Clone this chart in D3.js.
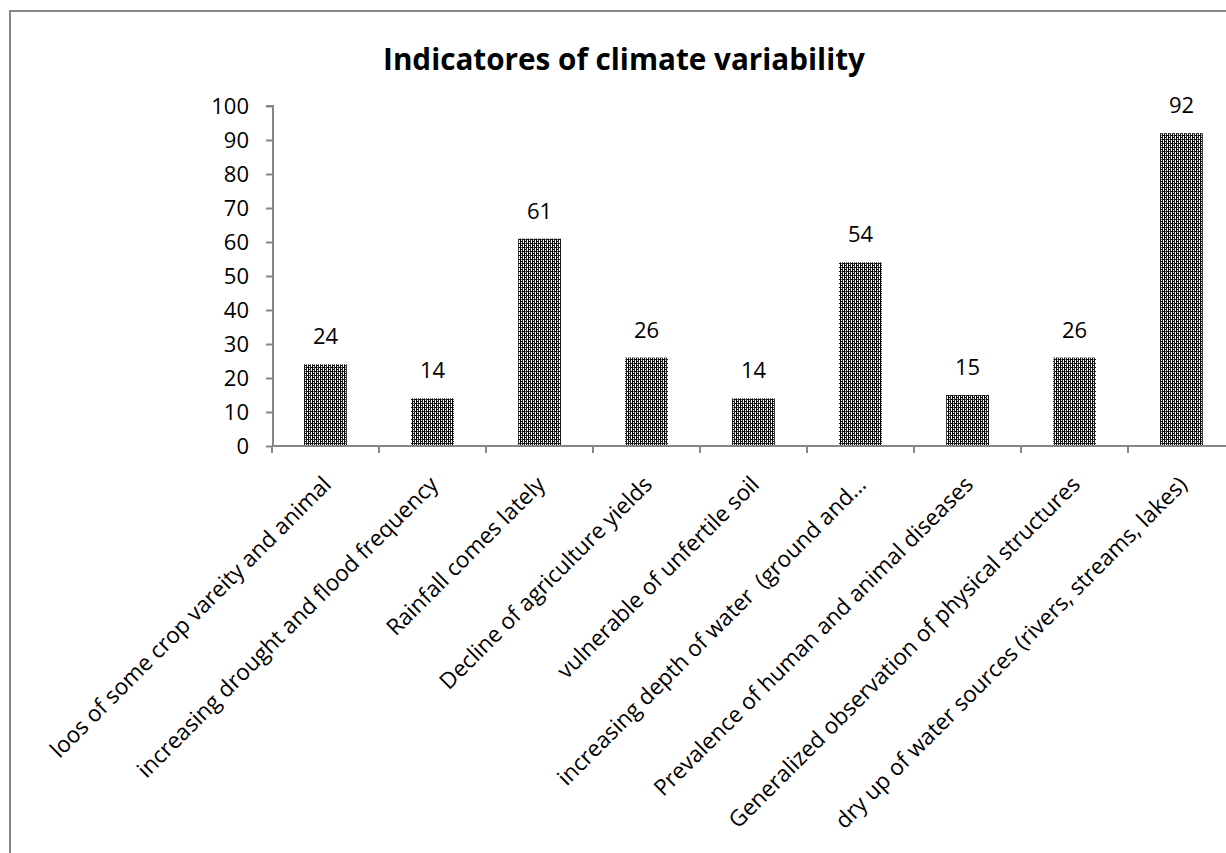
<!DOCTYPE html>
<html>
<head>
<meta charset="utf-8">
<script src="https://cdn.jsdelivr.net/npm/d3@7"></script>
<style>
  html, body { margin: 0; padding: 0; background: #fff; }
  svg { display: block; }
  text { font-family: "Open Sans", Lato, sans-serif; fill: #000; }
</style>
</head>
<body>
<svg id="chart" width="1226" height="853"></svg>
<script>
const categories = [
  "loos of some crop vareity and animal",
  "increasing drought and flood frequency",
  "Rainfall comes lately",
  "Decline of agriculture yields",
  "vulnerable of unfertile soil",
  "increasing depth of water  (ground and…",
  "Prevalence of human and animal diseases",
  "Generalized observation of physical structures",
  "dry up of water sources (rivers, streams, lakes)"
];
const values = [24, 14, 61, 26, 14, 54, 15, 26, 92];
const yTicks = [0, 10, 20, 30, 40, 50, 60, 70, 80, 90, 100];
const title = "Indicatores of climate variability";

const svg = d3.select("#chart");
const axisColor = "#868686";
const fontFam = "'Open Sans', Lato, sans-serif";

// pattern fill resembling Excel's dark dotted pattern
const defs = svg.append("defs");
const pat = defs.append("pattern")
  .attr("id", "barPattern")
  .attr("patternUnits", "userSpaceOnUse")
  .attr("width", 4).attr("height", 4);
pat.append("rect").attr("width", 4).attr("height", 4).attr("fill", "#ffffff");
pat.append("rect").attr("x", 0).attr("y", 0).attr("width", 1).attr("height", 4).attr("fill", "#000");
pat.append("rect").attr("x", 2).attr("y", 0).attr("width", 1).attr("height", 4).attr("fill", "#222");
pat.append("rect").attr("x", 1).attr("y", 1).attr("width", 1).attr("height", 1).attr("fill", "#000");
pat.append("rect").attr("x", 3).attr("y", 3).attr("width", 1).attr("height", 1).attr("fill", "#000");
pat.append("rect").attr("x", 1).attr("y", 3).attr("width", 1).attr("height", 1).attr("fill", "#666");

// outer chart frame (extends past the viewport as in the reference)
svg.append("rect")
  .attr("x", 10).attr("y", 11)
  .attr("width", 1300).attr("height", 900)
  .attr("fill", "none")
  .attr("stroke", axisColor)
  .attr("stroke-width", 2);

// title, sized to span the same width as in the reference
const t = svg.append("text")
  .attr("x", 624).attr("y", 70)
  .attr("text-anchor", "middle")
  .style("font-weight", "bold")
  .style("font-size", "26px")
  .text(title);
const tw = t.node().getComputedTextLength();
t.style("font-size", (26 * 482 / tw).toFixed(2) + "px");

const x = d3.scaleBand()
  .domain(categories)
  .range([272, 1235])
  .padding(0);

const y = d3.scaleLinear()
  .domain([0, 100])
  .range([446, 106]);

// bars
const barW = x.bandwidth() * 0.4;
svg.append("g").selectAll("rect")
  .data(values)
  .join("rect")
  .attr("x", (d, i) => x(categories[i]) + (x.bandwidth() - barW) / 2)
  .attr("y", d => y(d))
  .attr("width", barW)
  .attr("height", d => y(0) - y(d))
  .attr("fill", "url(#barPattern)");

// value labels
svg.append("g").selectAll("text")
  .data(values)
  .join("text")
  .attr("x", (d, i) => x(categories[i]) + x.bandwidth() / 2)
  .attr("y", d => y(d) - 20)
  .attr("text-anchor", "middle")
  .style("font-size", "22px")
  .text(d => d);

// y axis
const yAxis = d3.axisLeft(y)
  .tickValues(yTicks)
  .tickSize(7)
  .tickPadding(17)
  .tickFormat(d3.format("d"));
const gy = svg.append("g")
  .attr("transform", "translate(273,0)")
  .call(yAxis);
gy.select(".domain").attr("stroke", axisColor).attr("stroke-width", 2)
  .attr("d", "M-7,106H0V446");
gy.selectAll(".tick line").attr("stroke", axisColor).attr("stroke-width", 2);
gy.selectAll(".tick text").style("font-size", "22px").style("font-family", fontFam).attr("fill", "#000");

// x axis: ticks at band boundaries
const boundaries = categories.map(c => x(c)).concat([x.range()[1]]);
const gx = svg.append("g");
gx.append("line")
  .attr("x1", 272).attr("x2", 1226)
  .attr("y1", y(0)).attr("y2", y(0))
  .attr("stroke", axisColor).attr("stroke-width", 2);
gx.selectAll("line.tk")
  .data(boundaries)
  .join("line")
  .attr("class", "tk")
  .attr("x1", d => d).attr("x2", d => d)
  .attr("y1", y(0)).attr("y2", y(0) + 7)
  .attr("stroke", axisColor).attr("stroke-width", 2);

// category labels rotated -45
gx.selectAll("text")
  .data(categories)
  .join("text")
  .attr("transform", c => `translate(${x(c) + x.bandwidth() / 2 + 7},${y(0) + 40}) rotate(-45)`)
  .attr("text-anchor", "end")
  .style("font-size", "22.5px")
  .style("white-space", "pre")
  .text(c => c);
</script>
</body>
</html>
